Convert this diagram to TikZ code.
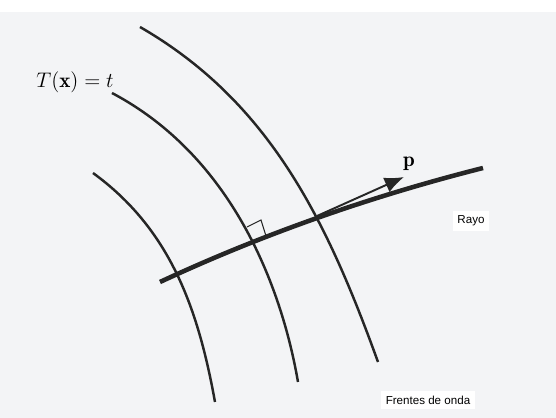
\documentclass[tikz,border=0pt]{standalone}
\usepackage{fontspec}
\newfontfamily\tagfont{Liberation Sans}
\usepackage{amsmath}
\usetikzlibrary{arrows.meta}
\usetikzlibrary{positioning}
\definecolor{paper}{RGB}{243,244,246}
\tikzstyle{front}=[draw=black!85,line width=1.4pt]
\tikzstyle{ray}=[draw=black!85,line width=2.6pt]
\tikzstyle{arr}=[-{Latex[length=11pt,width=9pt]},draw=black!85,line width=1.1pt]
\tikzstyle{perp}=[draw=black!85,line width=0.6pt]
\tikzstyle{tag}=[fill=white,inner sep=2.5pt,font=\tagfont\fontsize{6.6}{8}\selectfont]

\begin{document}
\begin{tikzpicture}[x=0.02cm,y=-0.02cm]
        \useasboundingbox (0,0) rectangle (556,418);
        \fill[paper] (0,12) rectangle (556,418);
        % ends of the fronts and of the ray
        \coordinate (A1) at (93,173);
        \coordinate (B1) at (215,402);
        \coordinate (A2) at (112,93);
        \coordinate (B2) at (298,382);
        \coordinate (A3) at (140,27);
        \coordinate (B3) at (378,362);
        \coordinate (R0) at (160,282);
        \coordinate (R1) at (483,168);
        \coordinate (I3) at (317,216);
        \coordinate (Ptip) at (404,177);
        % wave fronts
        \draw[front] (A1) .. controls (170,229) and (198,308) .. (B1);
        \draw[front] (A2) .. controls (231,156) and (281,284) .. (B2);
        \draw[front] (A3) .. controls (270,102) and (327,221) .. (B3);
        % ray
        \draw[ray] (R0) .. controls (263,234) and (372,196) .. (R1);
        \draw[perp] (247,227) -- (261,220) -- (266,236);
        \draw[arr] (I3) -- (Ptip);
        % labels
        \node (T) at (75,82) {\large $T(\mathbf{x}) = t$};
        \node (p) at (409,164) {\large $\mathbf{p}$};
        \node[tag] (rayo) at (471,221) {Rayo};
        \node[tag] (frentes) at (428,400) {Frentes de onda};
\end{tikzpicture}
\end{document}
